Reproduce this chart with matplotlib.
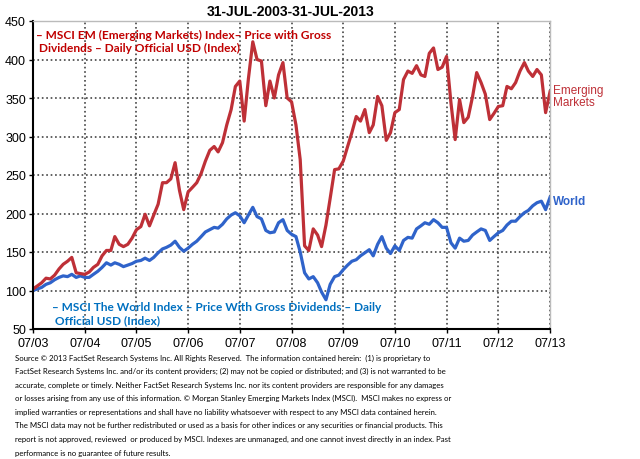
import matplotlib
matplotlib.use("Agg")
import matplotlib.pyplot as plt
import matplotlib.dates as mdates
import pandas as pd

# month-end observations, Jul-2003 .. Jul-2013 (indexed to 100)
dates = pd.date_range("2003-07-31", "2013-07-31", freq="ME")

emerging = [
    102, 106, 110, 116, 115, 120,
    128, 134, 138, 143, 123, 122, 121, 124, 130, 134, 145, 152,
    152, 170, 160, 157, 160, 168, 179, 183, 199, 184, 198, 212,
    240, 240, 245, 266, 230, 205, 228, 234, 240, 252, 268, 282,
    287, 280, 292, 315, 335, 365, 372, 320, 375, 423, 400, 398,
    340, 372, 350, 380, 396, 350, 345, 315, 270, 158, 152, 180,
    172, 157, 185, 220, 257, 258, 268, 287, 305, 326, 320, 335,
    305, 315, 352, 340, 295, 305, 331, 335, 374, 385, 382, 392,
    380, 378, 408, 415, 387, 390, 404, 344, 296, 348, 318, 325,
    352, 383, 370, 355, 322, 330, 339, 340, 365, 362, 370, 385,
    396, 385, 378, 387, 380, 331, 358,
]

world = [
    100, 102, 104, 108, 110, 114,
    117, 119, 118, 121, 117, 119, 117, 117, 121, 125, 130, 136,
    133, 136, 134, 131, 133, 135, 138, 139, 142, 139, 143, 149,
    154, 156, 159, 164, 156, 151, 155, 160, 164, 170, 176, 179,
    182, 181, 186, 193, 198, 201, 197, 188, 198, 208, 196, 193,
    178, 175, 176, 188, 192, 178, 173, 170, 150, 123, 115, 118,
    110, 98, 88, 108, 118, 120, 127, 133, 138, 140, 145, 149,
    153, 145, 160, 170, 155, 148, 158, 152, 165, 169, 168, 180,
    184, 188, 186, 192, 188, 182, 182, 162, 155, 168, 164, 165,
    172, 176, 180, 178, 165, 170, 175, 178, 185, 190, 190, 196,
    201, 204, 210, 214, 216, 205, 221,
]

tick_dates = pd.date_range("2003-07-31", "2013-07-31", freq="12ME")
y_ticks = list(range(50, 451, 50))

title = "31-JUL-2003-31-JUL-2013"
em_note = "– MSCI EM (Emerging Markets) Index– Price with Gross\n Dividends – Daily Official USD (Index)"
world_note = "– MSCI The World Index – Price With Gross Dividends – Daily\n Official USD (Index)"
footer_lines = [
    "Source © 2013 FactSet Research Systems Inc. All Rights Reserved.  The information contained herein:  (1) is proprietary to",
    "FactSet Research Systems Inc. and/or its content providers; (2) may not be copied or distributed; and (3) is not warranted to be",
    "accurate, complete or timely. Neither FactSet Research Systems Inc. nor its content providers are responsible for any damages",
    "or losses arising from any use of this information. © Morgan Stanley Emerging Markets Index (MSCI).  MSCI makes no express or",
    "implied warranties or representations and shall have no liability whatsoever with respect to any MSCI data contained herein.",
    "The MSCI data may not be further redistributed or used as a basis for other indices or any securities or financial products. This",
    "report is not approved, reviewed  or produced by MSCI. Indexes are unmanaged, and one cannot invest directly in an index. Past",
    "performance is no guarantee of future results.",
]

RED = "#BE3037"
BLUE = "#2F63CA"

plt.rcParams["font.family"] = ["Liberation Sans", "DejaVu Sans"]

fig = plt.figure(figsize=(6.4, 4.6), dpi=100)
ax = fig.add_axes([33 / 640, 1 - 330 / 460, 517 / 640, 308 / 460])
ax.set_axisbelow(True)

ax.plot(dates, world, color=BLUE, linewidth=2.3, solid_joinstyle="round")
ax.plot(dates, emerging, color=RED, linewidth=2.3, solid_joinstyle="round")

ax.set_xlim(dates[0], dates[-1])
ax.set_ylim(50, 450)
ax.set_yticks(y_ticks)
ax.set_xticks(tick_dates)
ax.xaxis.set_major_formatter(mdates.DateFormatter("%m/%y"))
ax.tick_params(labelsize=9, length=3, width=1, pad=2)
ax.tick_params(axis="x", pad=3)

ax.xaxis.grid(True, color="#444444", linestyle=":", linewidth=1.2)
ax.yaxis.grid(True, color="#444444", linestyle=":", linewidth=1.2)
for side in ["left", "bottom"]:
    ax.spines[side].set_linewidth(1.5)
    ax.spines[side].set_color("black")
for side in ["top", "right"]:
    ax.spines[side].set_color("#BBBBBB")
    ax.spines[side].set_linewidth(1)

fig.text(291 / 640, 1 - 12 / 460, title, ha="center", va="center",
         fontsize=10, fontweight="bold")

ax.text(0.006, 0.975, em_note, transform=ax.transAxes, ha="left", va="top",
        fontsize=8.6, fontweight="bold", color="#C00000",
        family=["Lato", "DejaVu Sans"], linespacing=1.2)
ax.text(0.036, 0.09, world_note, transform=ax.transAxes, ha="left", va="top",
        fontsize=8.6, fontweight="bold", color="#0070C0",
        family=["Lato", "DejaVu Sans"], linespacing=1.2)

fig.text(553 / 640, 1 - 97 / 460, "Emerging\nMarkets", ha="left", va="center",
         fontsize=8.5, color=RED, linespacing=1.05)
fig.text(553 / 640, 1 - 202 / 460, "World", ha="left", va="center",
         fontsize=8.5, color=BLUE, fontweight="bold")

# footer, one text per line so the spacing matches the source
for i, line in enumerate(footer_lines):
    fig.text(15 / 640, 1 - (358 + i * 13.6) / 460, line, ha="left", va="center",
             fontsize=5.6, family=["Lato", "DejaVu Sans"])

fig.savefig("out.png", dpi=100)
